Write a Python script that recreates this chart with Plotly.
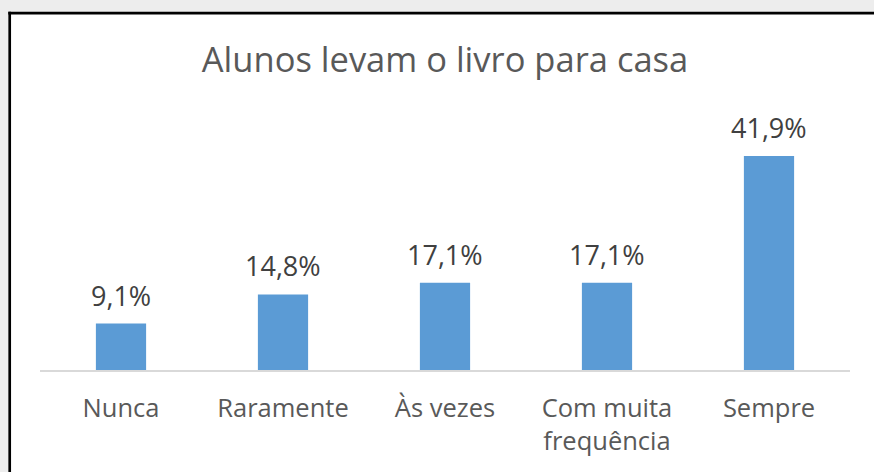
import plotly.graph_objects as go

categories = ["Nunca", "Raramente", "Às vezes", "Com muita<br>frequência", "Sempre"]
values = [9.1, 14.8, 17.1, 17.1, 41.9]
title_text = "Alunos levam o livro para casa"

FONT = "Open Sans"
W, H = 874, 472
PL, PR, PT, PB = 40, 850, 100, 370   # plot area in pixels
PW, PH = PR - PL, PB - PT


def px_x(p):
    return (p - PL) / PW


def px_y(p):
    return (PB - p) / PH


fig = go.Figure()
fig.add_trace(go.Bar(
    x=categories, y=values,
    marker=dict(color="#5B9BD5", line=dict(width=0)),
    width=0.31,
    hoverinfo="skip",
))

annotations = []
for c, v in zip(categories, values):
    annotations.append(dict(
        x=c, y=v, xref="x", yref="y",
        text=f"{v:.1f}%".replace(".", ","),
        showarrow=False, yanchor="bottom", yshift=8,
        font=dict(family=FONT, size=27, color="#404040"),
    ))

GRAY = "#ededed"
shapes = [
    # gray strips outside the chart frame (left and top)
    dict(type="rect", xref="paper", yref="paper", layer="below",
         x0=px_x(0), x1=px_x(W), y0=px_y(12), y1=px_y(0),
         fillcolor=GRAY, line=dict(width=0)),
    dict(type="rect", xref="paper", yref="paper", layer="below",
         x0=px_x(0), x1=px_x(8.3), y0=px_y(H), y1=px_y(0),
         fillcolor=GRAY, line=dict(width=0)),
    # top frame line
    dict(type="line", xref="paper", yref="paper", layer="below",
         x0=px_x(8.3), x1=px_x(W), y0=px_y(13.2), y1=px_y(13.2),
         line=dict(color="black", width=2.7)),
    # left frame line
    dict(type="line", xref="paper", yref="paper", layer="below",
         x0=px_x(9.7), x1=px_x(9.7), y0=px_y(H), y1=px_y(11.8),
         line=dict(color="black", width=2.7)),
]

fig.update_layout(
    width=W, height=H,
    margin=dict(l=PL, r=W - PR, t=PT, b=H - PB, pad=0),
    paper_bgcolor="white",
    plot_bgcolor="rgba(0,0,0,0)",
    showlegend=False,
    hovermode=False,
    title=dict(text=title_text, x=445 / W, xanchor="center",
               y=1 - 60 / H, yanchor="middle",
               font=dict(family=FONT, size=34.5, color="#595959")),
    xaxis=dict(
        showgrid=False, showline=True, linecolor="#d9d9d9", linewidth=1.5,
        ticks="", tickfont=dict(family=FONT, size=25.5, color="#595959"),
        ticklabelstandoff=15, fixedrange=True,
    ),
    yaxis=dict(range=[0, PH / 214 * 41.9], visible=False, fixedrange=True),
    annotations=annotations,
    shapes=shapes,
)

fig.write_html(
    "out.html",
    config={"displayModeBar": False, "staticPlot": True},
    post_script=("document.body.style.margin='0';"
                 "document.body.style.overflow='hidden';"
                 "document.body.style.background='white';"),
)
